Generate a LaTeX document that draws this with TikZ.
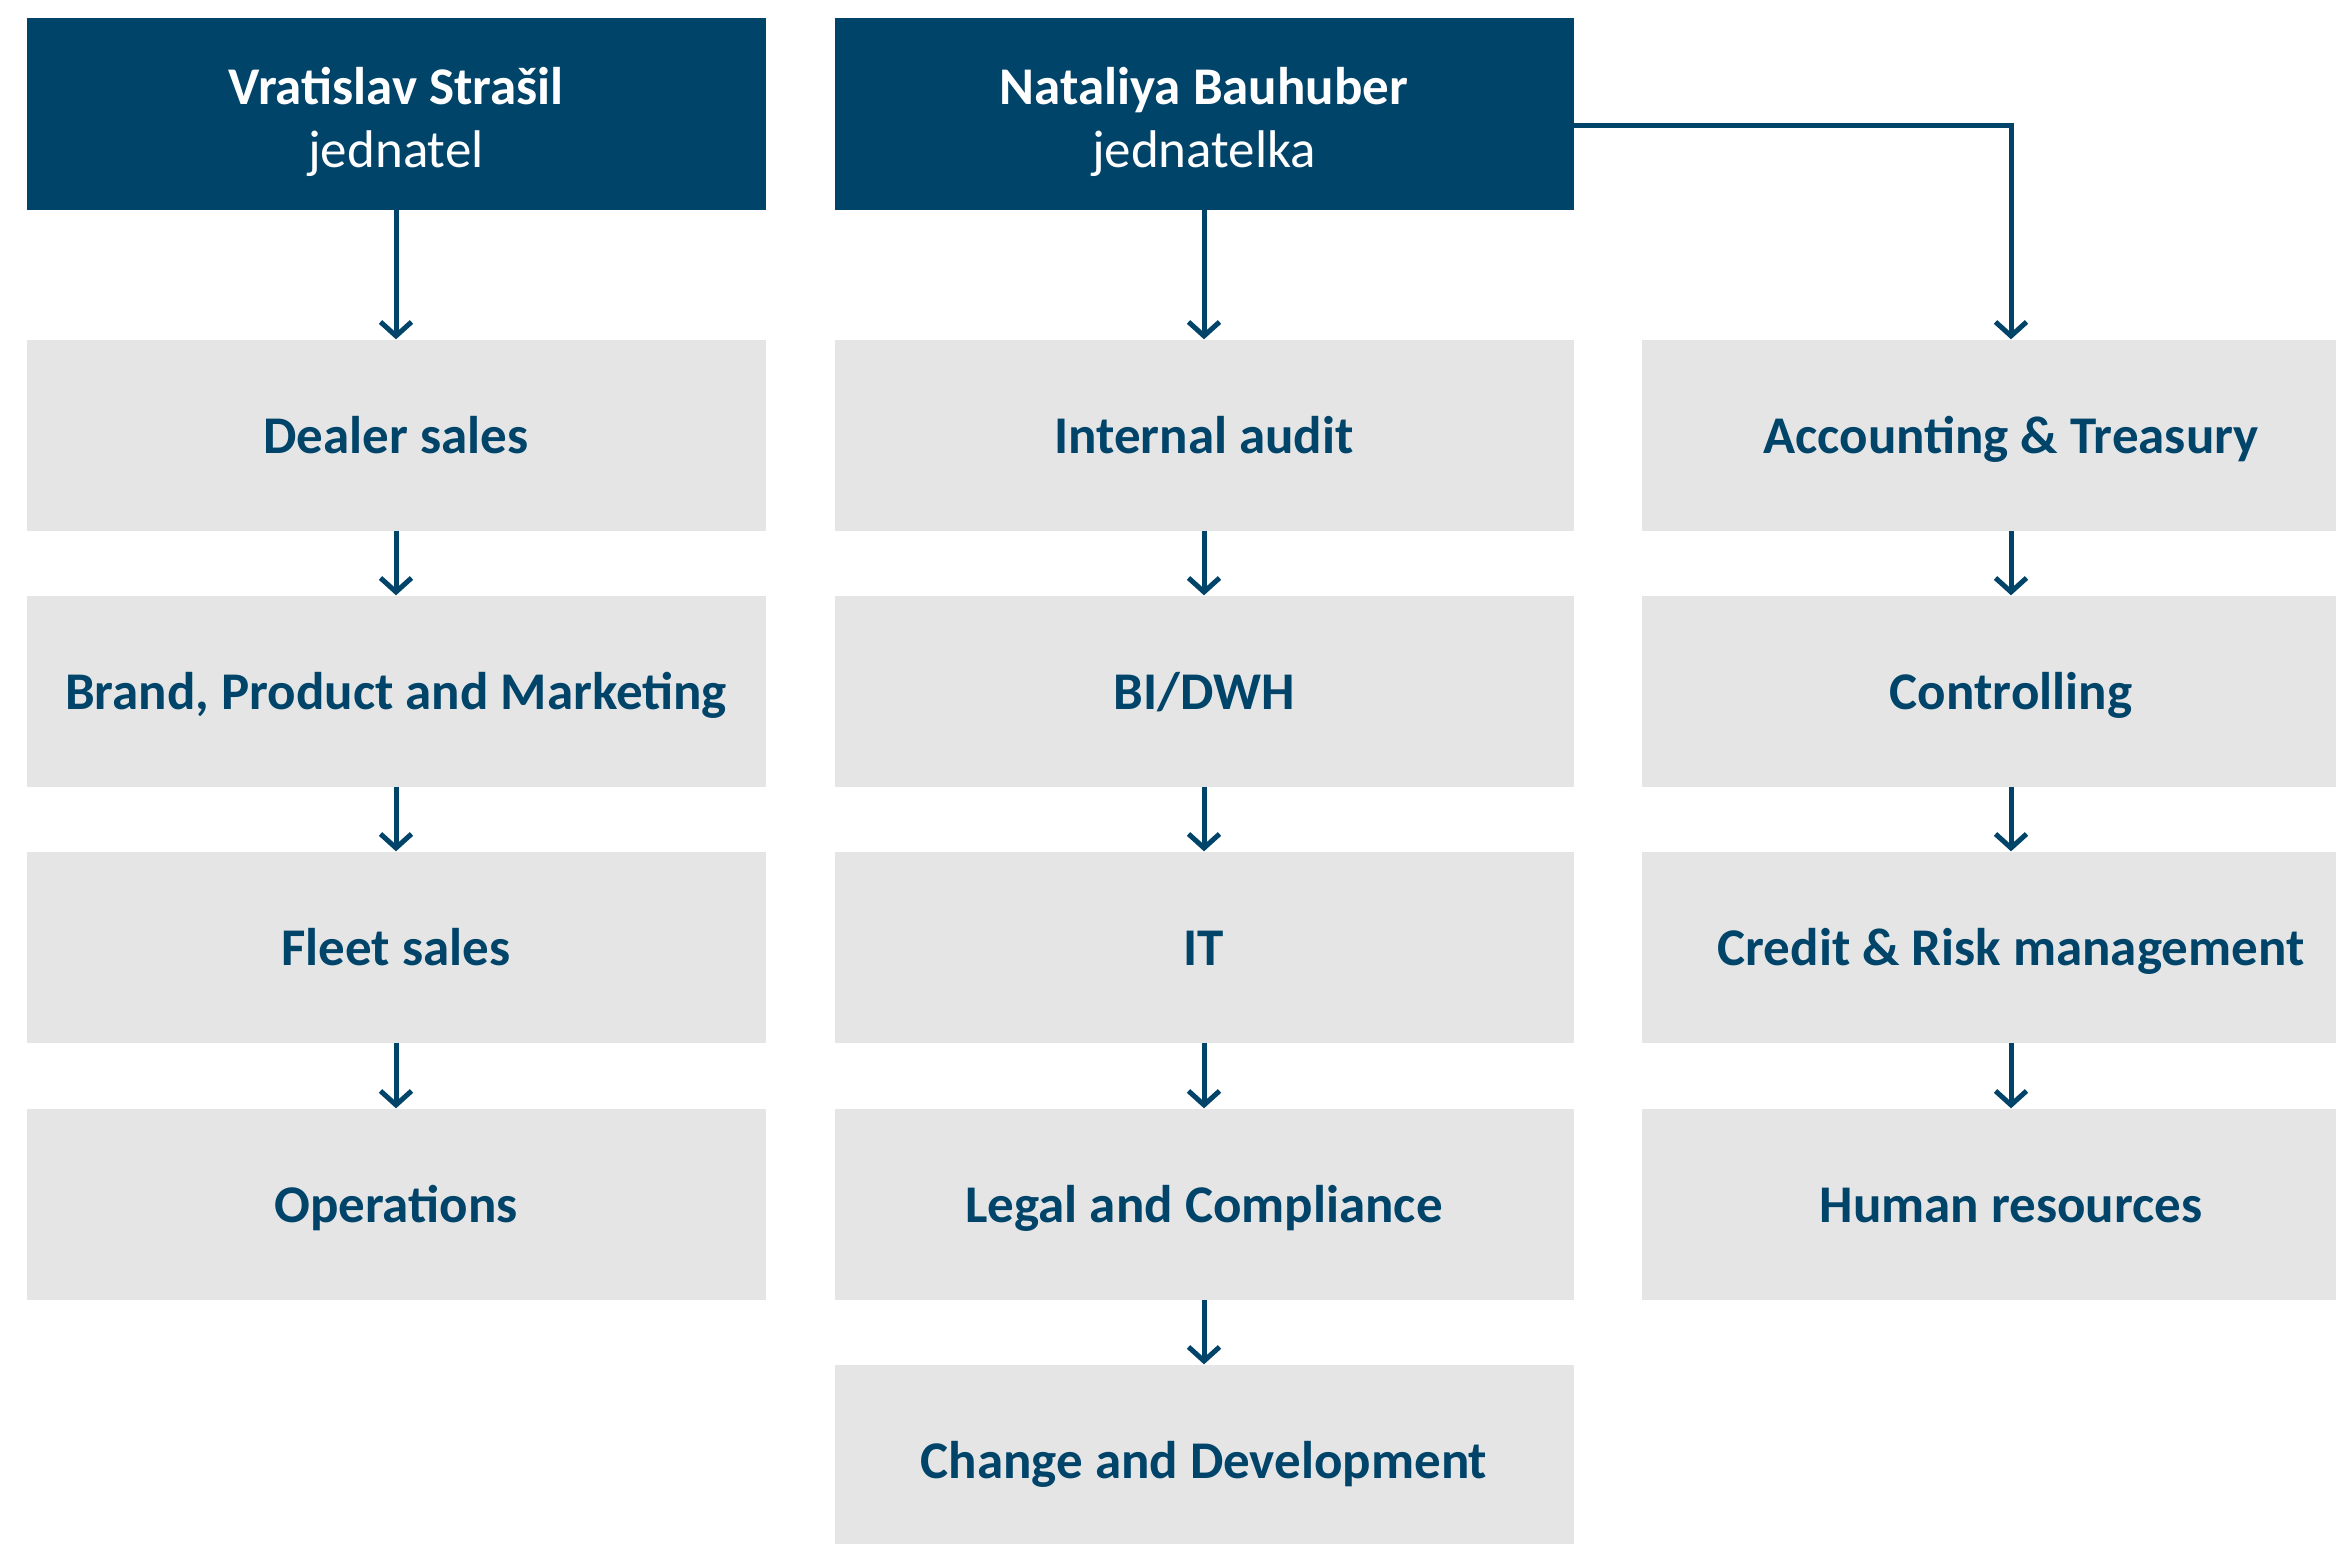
\documentclass[tikz,border=0pt]{standalone}
\usepackage{fontspec}
\setmainfont{Carlito}
\usetikzlibrary{arrows.meta}
\definecolor{navy}{RGB}{0,68,106}
\definecolor{boxgray}{RGB}{229,229,229}
\tikzset{
	head/.style={fill=navy, text=white, minimum width=739pt, minimum height=192pt, inner sep=0pt, align=center, font=\fontsize{53}{63}\selectfont},
	unit/.style={fill=boxgray, text=navy, minimum width=739pt, minimum height=191pt, inner sep=0pt, text height=36pt, text depth=0pt, font=\bfseries\fontsize{53}{63}\selectfont},
	link/.style={navy, line width=5pt, -{Straight Barb[length=14pt,width=31pt]}}
}
\begin{document}
\begin{tikzpicture}[x=1pt,y=-1pt]
	\fill[white] (0,0) rectangle (2336,1543);
	\useasboundingbox (0,0) rectangle (2336,1543);
\node[head] (v) at (396,114) {\rule{0pt}{53pt}\textbf{Vratislav Strašil}\\jednatel};
\node[head] (n) at (1204,114) {\rule{0pt}{53pt}\textbf{Nataliya Bauhuber}\\jednatelka};
% left column
\node[unit] (v1) at (396,435) {Dealer sales};
\node[unit] (v2) at (396,691) {Brand, Product and Marketing};
\node[unit] (v3) at (396,947) {Fleet sales};
\node[unit] (v4) at (396,1204) {Operations};
% middle column
\node[unit] (n1) at (1204,435) {Internal audit};
\node[unit] (n2) at (1204,691) {BI/DWH};
\node[unit] (n3) at (1204,947) {IT};
\node[unit] (n4) at (1204,1204) {Legal and Compliance};
\node[unit] (n5) at (1204,1460) {Change and Development};
% right column
\node[unit] (a1) at (2011,435) {Accounting \& Treasury};
\node[unit] (a2) at (2011,691) {Controlling};
\node[unit] (a3) at (2011,947) {Credit \& Risk management};
\node[unit] (a4) at (2011,1204) {Human resources};
\draw[link] (v)--(v1);
\draw[link] (v1)--(v2);
\draw[link] (v2)--(v3);
\draw[link] (v3)--(v4);
\draw[link] (n)--(n1);
\draw[link] (n1)--(n2);
\draw[link] (n2)--(n3);
\draw[link] (n3)--(n4);
\draw[link] (n4)--(n5);
\draw[link] ([yshift=-11pt]n.east) -| (a1.north);
\draw[link] (a1)--(a2);
\draw[link] (a2)--(a3);
\draw[link] (a3)--(a4);
	\end{tikzpicture}
\end{document}
